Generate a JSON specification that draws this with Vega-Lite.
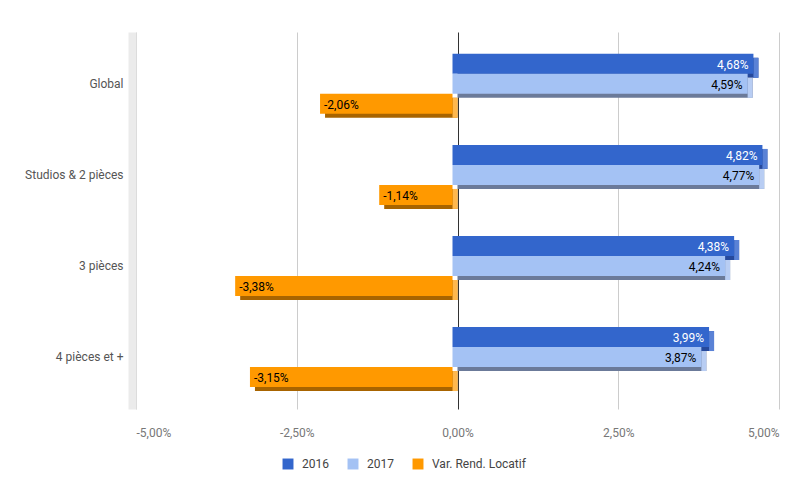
{
  "$schema": "https://vega.github.io/schema/vega-lite/v6.json",
  "autosize": {"type": "none"},
  "padding": {"left": 136, "top": 32, "right": 26, "bottom": 88},
  "width": 643,
  "height": 377,
  "background": "white",
  "config": {
    "locale": {"number": {"decimal": ",", "thousands": " ", "grouping": [3], "currency": ["", " €"], "minus": "-"}},
    "font": "Roboto",
    "view": {"stroke": null}
  },
  "data": {
    "values": [
      {"cat": "Global", "series": "2016", "v": 0.0468},
      {"cat": "Global", "series": "2017", "v": 0.0459},
      {"cat": "Global", "series": "Var. Rend. Locatif", "v": -0.0206},
      {"cat": "Studios & 2 pièces", "series": "2016", "v": 0.0482},
      {"cat": "Studios & 2 pièces", "series": "2017", "v": 0.0477},
      {"cat": "Studios & 2 pièces", "series": "Var. Rend. Locatif", "v": -0.0114},
      {"cat": "3 pièces", "series": "2016", "v": 0.0438},
      {"cat": "3 pièces", "series": "2017", "v": 0.0424},
      {"cat": "3 pièces", "series": "Var. Rend. Locatif", "v": -0.0338},
      {"cat": "4 pièces et +", "series": "2016", "v": 0.0399},
      {"cat": "4 pièces et +", "series": "2017", "v": 0.0387},
      {"cat": "4 pièces et +", "series": "Var. Rend. Locatif", "v": -0.0315}
    ]
  },
  "encoding": {
    "y": {
      "field": "cat", "type": "nominal", "sort": null, "title": null,
      "scale": {"paddingInner": 0.34, "paddingOuter": 0.24},
      "axis": {
        "ticks": false, "labelPadding": 9, "offset": 4,
        "domain": true, "domainColor": "#ebebeb", "domainWidth": 8,
        "labelColor": "#555", "labelFontSize": 12, "labelFont": "Roboto"
      }
    }
  },
  "layer": [
    {
      "mark": {"type": "bar"},
      "encoding": {
        "yOffset": {"field": "series", "type": "nominal", "scale": {"domain": ["2016", "2017", "Var. Rend. Locatif"], "paddingInner": 0, "paddingOuter": 0, "range": [4, 64]}},
        "x": {
          "field": "v", "type": "quantitative", "title": null,
          "scale": {"domain": [-0.05, 0.05], "nice": false, "zero": false},
          "axis": {
            "values": [-0.05, -0.025, 0, 0.025, 0.05], "format": ".2%",
            "domain": false, "ticks": false, "grid": true,
            "gridColor": {"condition": {"test": "datum.value === 0", "value": "#333333"}, "value": "#cccccc"},
            "labelPadding": 18, "labelColor": "#777", "labelFontSize": 12, "labelFont": "Roboto"
          }
        },
        "x2": {"datum": 0},
        "color": {
          "field": "series", "type": "nominal", "legend": null,
          "scale": {"domain": ["2016", "2017", "Var. Rend. Locatif"], "range": ["#26499c", "#6b7a99", "#a86400"]}
        }
      }
    },
    {
      "transform": [{"filter": "datum.v >= 0"}],
      "mark": {"type": "bar", "x2Offset": -5},
      "encoding": {
        "yOffset": {"field": "series", "type": "nominal", "scale": {"domain": ["2016", "2017", "Var. Rend. Locatif"], "paddingInner": 0, "paddingOuter": 0, "range": [4, 64]}},
        "x": {"field": "v", "type": "quantitative"},
        "x2": {"field": "v"},
        "color": {
          "field": "series", "type": "nominal", "legend": null,
          "scale": {"domain": ["2016", "2017", "Var. Rend. Locatif"], "range": ["#5a82d6", "#b8cdf3", "#ffb84d"]}
        }
      }
    },
    {
      "transform": [{"filter": "datum.v < 0"}],
      "mark": {"type": "bar", "x2Offset": -5},
      "encoding": {
        "yOffset": {"field": "series", "type": "nominal", "scale": {"domain": ["2016", "2017", "Var. Rend. Locatif"], "paddingInner": 0, "paddingOuter": 0, "range": [4, 64]}},
        "x": {"datum": 0},
        "x2": {"datum": 0},
        "color": {
          "field": "series", "type": "nominal", "legend": null,
          "scale": {"domain": ["2016", "2017", "Var. Rend. Locatif"], "range": ["#5a82d6", "#b8cdf3", "#ffb84d"]}
        }
      }
    },
    {
      "mark": {"type": "bar", "xOffset": -5, "x2Offset": -5},
      "encoding": {
        "yOffset": {"field": "series", "type": "nominal", "scale": {"domain": ["2016", "2017", "Var. Rend. Locatif"], "paddingInner": 0, "paddingOuter": 0, "range": [0, 60]}},
        "x": {"field": "v", "type": "quantitative"},
        "x2": {"datum": 0},
        "color": {
          "field": "series", "type": "nominal", "title": null,
          "scale": {"domain": ["2016", "2017", "Var. Rend. Locatif"], "range": ["#3366cc", "#a4c2f4", "#ff9900"]},
          "legend": {
            "orient": "none", "legendX": 146, "legendY": 426, "direction": "horizontal", "symbolType": "square",
            "symbolSize": 120, "symbolStrokeWidth": 0, "labelFontSize": 12, "labelColor": "#444",
            "labelFont": "Roboto", "columnPadding": 18, "labelOffset": 8
          }
        }
      }
    },
    {
      "transform": [{"filter": "datum.v >= 0"}],
      "mark": {"type": "text", "align": "right", "baseline": "middle", "dx": -10, "dy": 1, "fontSize": 12, "font": "Roboto"},
      "encoding": {
        "yOffset": {"field": "series", "type": "nominal", "scale": {"type": "point", "domain": ["2016", "2017", "Var. Rend. Locatif"], "padding": 0, "range": [10, 50]}},
        "x": {"field": "v", "type": "quantitative"},
        "text": {"field": "v", "type": "quantitative", "format": ".2%"},
        "color": {"condition": {"test": "datum.series === '2016'", "value": "white"}, "value": "black"}
      }
    },
    {
      "transform": [{"filter": "datum.v < 0"}],
      "mark": {"type": "text", "align": "left", "baseline": "middle", "dx": -1, "dy": 1, "fontSize": 12, "font": "Roboto", "color": "black"},
      "encoding": {
        "yOffset": {"field": "series", "type": "nominal", "scale": {"type": "point", "domain": ["2016", "2017", "Var. Rend. Locatif"], "padding": 0, "range": [10, 50]}},
        "x": {"field": "v", "type": "quantitative"},
        "text": {"field": "v", "type": "quantitative", "format": ".2%"}
      }
    }
  ],
  "resolve": {"scale": {"color": "independent", "yOffset": "independent"}}
}
